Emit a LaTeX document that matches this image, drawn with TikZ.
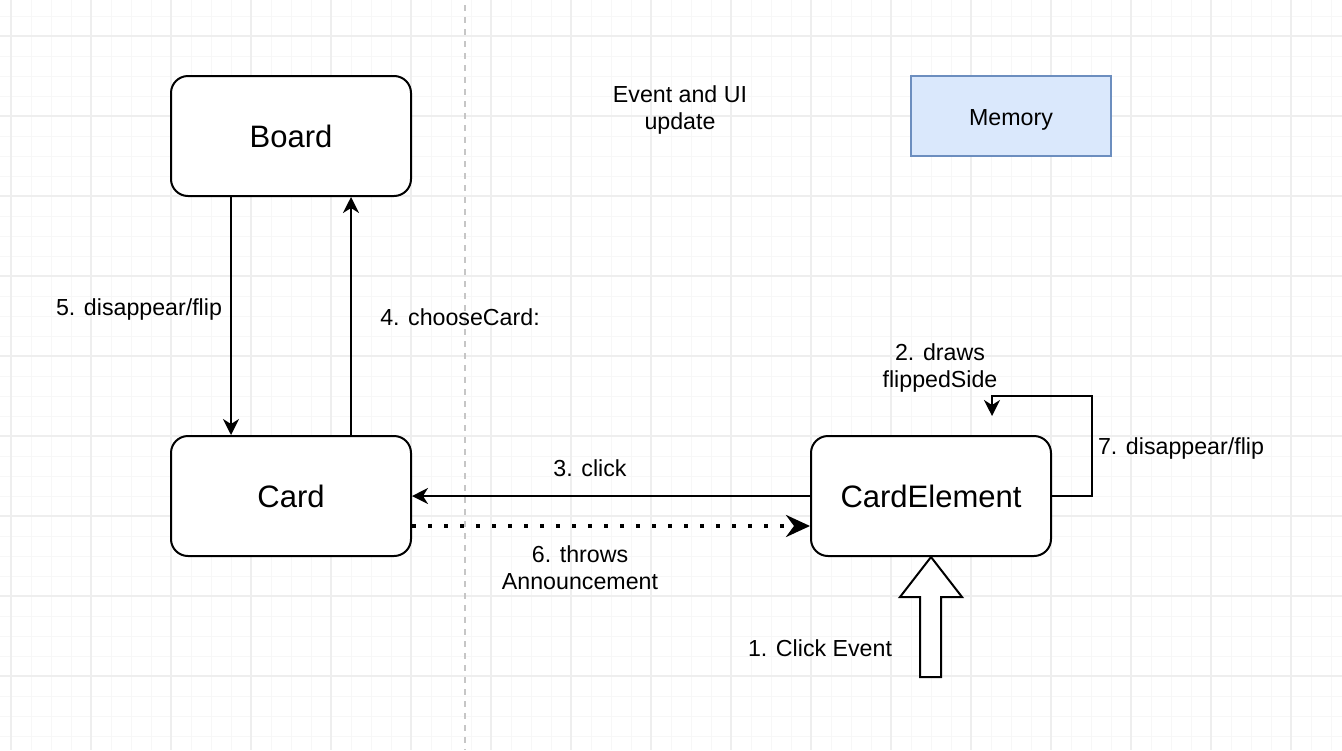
\documentclass[tikz,border=0pt]{standalone}
\definecolor{memfill}{RGB}{218,232,252}
\definecolor{memdraw}{RGB}{108,142,191}
\usepackage{fontspec}
\setmainfont{Liberation Sans}
\usepackage{tikz}
\usetikzlibrary{arrows.meta}

\tikzset{
  block/.style={draw, fill=white, rounded corners=8.5pt, line width=1pt,
    minimum width=120pt, minimum height=60pt, inner sep=0pt,
    font=\fontsize{15.5}{18}\selectfont},
  memblock/.style={draw=memdraw, fill=memfill, line width=0.75pt,
    minimum width=100pt, minimum height=40pt, inner sep=0pt,
    text height=9.5pt, text depth=0pt,
    font=\fontsize{11.6}{14}\selectfont},
  lbl/.style={align=center, inner sep=0pt, font=\fontsize{11.6}{13.5}\selectfont},
  flow/.style={-{Stealth[length=8pt,width=8pt,inset=2.5pt]}, line width=1pt},
  dotflow/.style={-{Stealth[length=12pt,width=11pt,inset=4pt]}, line width=1.8pt,
    dash pattern=on 1.8pt off 6.2pt},
  gridminor/.style={gray!6, line width=0.5pt},
  gridmajor/.style={gray!13, line width=0.6pt}
}

\begin{document}
\begin{tikzpicture}[x=0.5pt, y=-0.5pt]
        \useasboundingbox[fill=white] (0,0) rectangle (1342,750);
        \foreach \x in {11,31,...,1331}{
          \draw[gridminor] (\x,0) -- (\x,750);
        }
        \foreach \y in {16,36,...,736}{
          \draw[gridminor] (0,\y) -- (1342,\y);
        }
        \foreach \x in {11,91,...,1331}{
          \draw[gridmajor] (\x,0) -- (\x,750);
        }
        \foreach \y in {36,116,...,676}{
          \draw[gridmajor] (0,\y) -- (1342,\y);
        }
        \draw[gray!45, line width=1pt, dash pattern=on 3pt off 3pt] (465,5) -- (465,750);

        \node[block] (board) at (291,136) {Board};
        \node[block] (card) at (291,496) {Card};
        \node[block] (elem) at (931,496) {CardElement};
        \node[memblock] (memory) at (1011,116) {Memory};
        \node[lbl] (title) at (680,110) {Event and UI\\update};

        \draw[flow] ([xshift=-30pt]board.south) -- ([xshift=-30pt]card.north);
        \draw[flow] ([xshift=30pt]card.north) -- ([xshift=30pt]board.south);
        \draw[flow] (elem.west) -- (card.east);
        \draw[dotflow] ([yshift=-15pt]card.east) -- ([yshift=-15pt]elem.west);
        \draw[flow] (elem.east) -- ++(40,0) -- ++(0,-100) -- ++(-100,0) -- ++(0,20);
        \draw[line width=1pt, fill=white] (elem.south) -- ++(31,40) -- ++(-21,0)
          -- ++(0,80) -- ++(-21,0) -- ++(0,-80) -- ++(-20,0) -- cycle;

        \node[lbl] (disappear) at (139,309) {5. disappear/flip};
        \node[lbl] (choose) at (460,317) {4. chooseCard:};
        \node[lbl] (click) at (590,468) {3. click};
        \node[lbl] (throws) at (580,568) {6. throws\\Announcement};
        \node[lbl] (draws) at (940,368) {2. draws\\flippedSide};
        \node[lbl] (flip) at (1181,448) {7. disappear/flip};
        \node[lbl] (event) at (820,648) {1. Click Event};
      \end{tikzpicture}
\end{document}
